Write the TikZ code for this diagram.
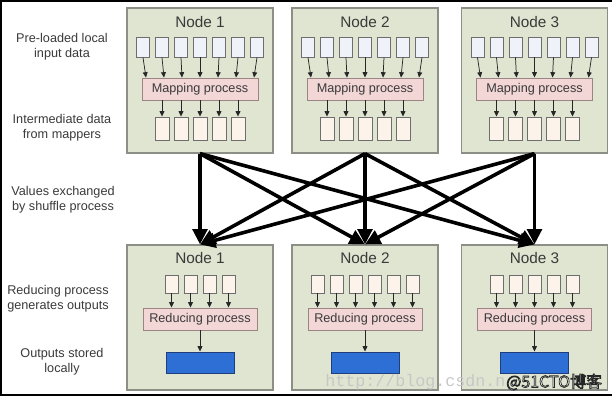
\documentclass[tikz,border=0pt]{standalone}
\usepackage{fontspec}
\setmainfont{Liberation Sans}
\newfontfamily\cjkfont{Noto Sans CJK SC}
\newfontfamily\wmfont{Liberation Mono}
\usetikzlibrary{arrows.meta}
\definecolor{nodefill}{HTML}{DFE5D1}
\definecolor{nodeborder}{HTML}{8C8F86}
\definecolor{infill}{HTML}{EFF3F9}
\definecolor{boxborder}{HTML}{6E6E6E}
\definecolor{procfill}{HTML}{F3D6D6}
\definecolor{procborder}{HTML}{9C8484}
\definecolor{midfill}{HTML}{FCF4EA}
\definecolor{outfill}{HTML}{2E6FD6}
\definecolor{outborder}{HTML}{1E3E7E}
\definecolor{txt}{HTML}{3A3A3A}
\def\px{0.75pt}
\newcommand\outlinedtext[1]{\special{pdf:literal direct 1 1 1 rg 0.15 0.15 0.15 RG 0.55 w 2 Tr}#1\special{pdf:literal direct 0 Tr}}
\tikzset{
  nodebox/.style={draw=nodeborder, fill=nodefill, line width=0.9pt, minimum width=146*\px, minimum height=145*\px, inner sep=0pt},
  titletext/.style={text=txt, font=\fontsize{11.5}{13}\selectfont, inner sep=0pt},
  inbox/.style={draw=boxborder, fill=infill, line width=0.7pt, minimum width=13*\px, minimum height=20*\px, inner sep=0pt},
  midbox/.style={draw=boxborder, fill=midfill, line width=0.7pt, minimum width=14*\px, minimum height=23*\px, inner sep=0pt},
  redbox/.style={draw=boxborder, fill=midfill, line width=0.7pt, minimum width=13*\px, minimum height=18*\px, inner sep=0pt},
  procbox/.style={draw=procborder, fill=procfill, line width=0.7pt, minimum width=116*\px, minimum height=22*\px, inner sep=0pt, text=txt, font=\fontsize{9.5}{11}\selectfont},
  outbox/.style={draw=outborder, fill=outfill, line width=0.7pt, minimum width=68*\px, minimum height=21*\px, inner sep=0pt},
  smallarrow/.style={draw=black!85, line width=0.55pt, -{Triangle[length=4pt,width=3.6pt]}},
  bigarrow/.style={draw=black, line width=2.7pt, -{Triangle[length=11.5pt,width=11pt]}},
  sidelabel/.style={align=center, text=txt, font=\fontsize{9.5}{11}\selectfont, inner sep=0pt},
}
\begin{document}
\begin{tikzpicture}[x=0.75pt, y=-0.75pt]
\useasboundingbox (0,0) rectangle (615,400);
% frame
\draw[black, line width=2pt] (612,1) -- (1,1) -- (1,395) -- (612,395);
% side labels
\node[sidelabel] (L1) at (62,46.5) {Pre-loaded local\\input data};
\node[sidelabel] (L2) at (62,128) {Intermediate data\\from mappers};
\node[sidelabel] (L3) at (63,200) {Values exchanged\\by shuffle process};
\node[sidelabel] (L4) at (58,299) {Reducing process\\generates outputs};
\node[sidelabel] (L5) at (62,362) {Outputs stored\\locally};
% top (mapping) nodes
\foreach \n/\cx in {1/200,2/365,3/534.5} {
  \node[nodebox] (T\n) at (\cx,80.5) {};
  \node[titletext] (T\n t) at (\cx,22) {Node \n};
  \node[procbox] (T\n m) at (\cx,89) {Mapping process};
  \foreach \i in {0,...,6} {
    \node[inbox] (T\n i\i) at ({\cx+(\i-3)*19},47) {};
    \draw[smallarrow] (T\n i\i.south) -- ([xshift={(\i-3)*18*0.75pt}]T\n m.north);
  }
  \foreach \j in {0,...,4} {
    \node[midbox] (T\n o\j) at ({\cx+(\j-2)*19},128.5) {};
    \draw[smallarrow] (T\n m.south -| T\n o\j) -- (T\n o\j.north);
  }
}
% bottom (reducing) nodes
\foreach \n/\cx/\k in {1/200/4,2/365/6,3/534.5/5} {
  \node[nodebox] (B\n) at (\cx,317.5) {};
  \node[titletext] (B\n t) at (\cx,258) {Node \n};
  \node[procbox, minimum width=114*\px] (B\n m) at (\cx,319) {Reducing process};
  \pgfmathtruncatemacro{\last}{\k-1}
  \foreach \i in {0,...,\last} {
    \node[redbox] (B\n i\i) at ({\cx+(\i-(\k-1)/2)*19},284) {};
    \draw[smallarrow] (B\n i\i.south) -- (B\n m.north -| B\n i\i);
  }
  \node[outbox] (B\n o) at (\cx,362.5) {};
  \draw[smallarrow] (B\n m.south) -- (B\n o.north);
}
% shuffle arrows
\foreach \a in {1,2,3} {
  \foreach \b in {1,2,3} {
    \draw[bigarrow] (T\a.south) -- (B\b.north);
  }
}
% watermark
\node[anchor=west, inner sep=0pt, text=black!22, font=\wmfont\fontsize{12.5}{14}\selectfont] (W1) at (325,382) {http://blog.csdn.n};
\node[anchor=west, inner sep=0pt, font=\cjkfont\fontsize{12}{13}\selectfont] (W2) at (506,382) {\outlinedtext{@51CTO博客}};
\end{tikzpicture}
\end{document}
